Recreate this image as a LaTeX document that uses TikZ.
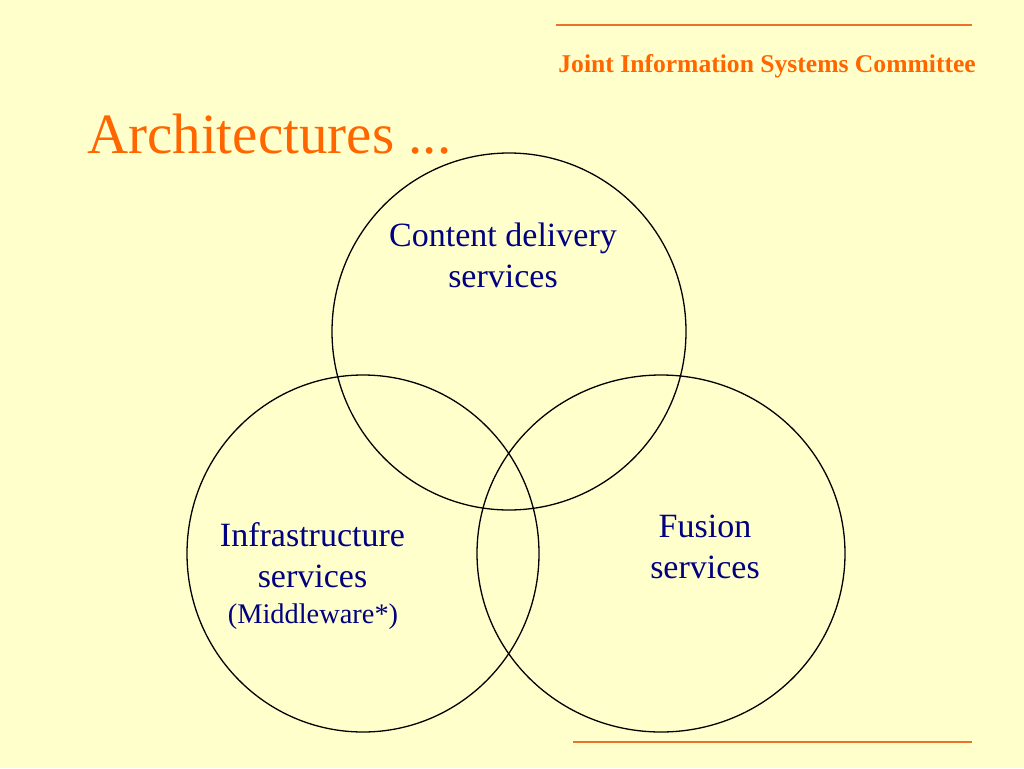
\documentclass[tikz,border=0pt]{standalone}
\usepackage{fontspec}
\setmainfont{Liberation Serif}
\definecolor{bgyellow}{RGB}{255,255,204}
\definecolor{jorange}{RGB}{255,102,0}
\definecolor{lineorange}{RGB}{235,115,40}
\definecolor{navytext}{RGB}{0,0,128}
\begin{document}
\begin{tikzpicture}[x=1pt,y=-1pt,
  ring/.style={draw=black,line width=1.3pt},
  rule/.style={draw=lineorange,line width=1.6pt},
  label/.style={text=navytext,align=center,inner sep=0pt,font=\fontsize{34}{41}\selectfont},
]
\fill[bgyellow] (0,0) rectangle (1024,768);
\useasboundingbox (0,0) rectangle (1024,768);
% rules
\coordinate (r1a) at (556,25);
\coordinate (r1b) at (972,25);
\coordinate (r2a) at (573,742);
\coordinate (r2b) at (972,742);
\draw[rule] (r1a) -- (r1b);
\draw[rule] (r2a) -- (r2b);
% header and title
\node[anchor=base east,inner sep=0pt,text=jorange,font=\fontsize{25.6}{30}\selectfont\bfseries] (hdr) at (976,72) {Joint Information Systems Committee};
\node[anchor=base west,inner sep=0pt,text=jorange,font=\fontsize{57}{66}\selectfont] (title) at (87,153) {Architectures ...};
% circles
\coordinate (ctop) at (509,331.5);
\coordinate (cleft) at (363,553.5);
\coordinate (cright) at (661,553.5);
\draw[ring] (ctop) ellipse [x radius=177, y radius=178.5];
\draw[ring] (cleft) ellipse [x radius=176, y radius=178.5];
\draw[ring] (cright) ellipse [x radius=184, y radius=178.5];
% labels (base anchor = last line baseline)
\node[label,anchor=base] (content) at (503,287) {Content delivery\\services};
\node[label,anchor=base] (infra) at (312.5,587) {Infrastructure\\services};
\node[anchor=base,inner sep=0pt,text=navytext,font=\fontsize{28.4}{34}\selectfont] (mid) at (313,623) {(Middleware*)};
\node[label,anchor=base] (fusion) at (705,578) {Fusion\\services};
\end{tikzpicture}
\end{document}
